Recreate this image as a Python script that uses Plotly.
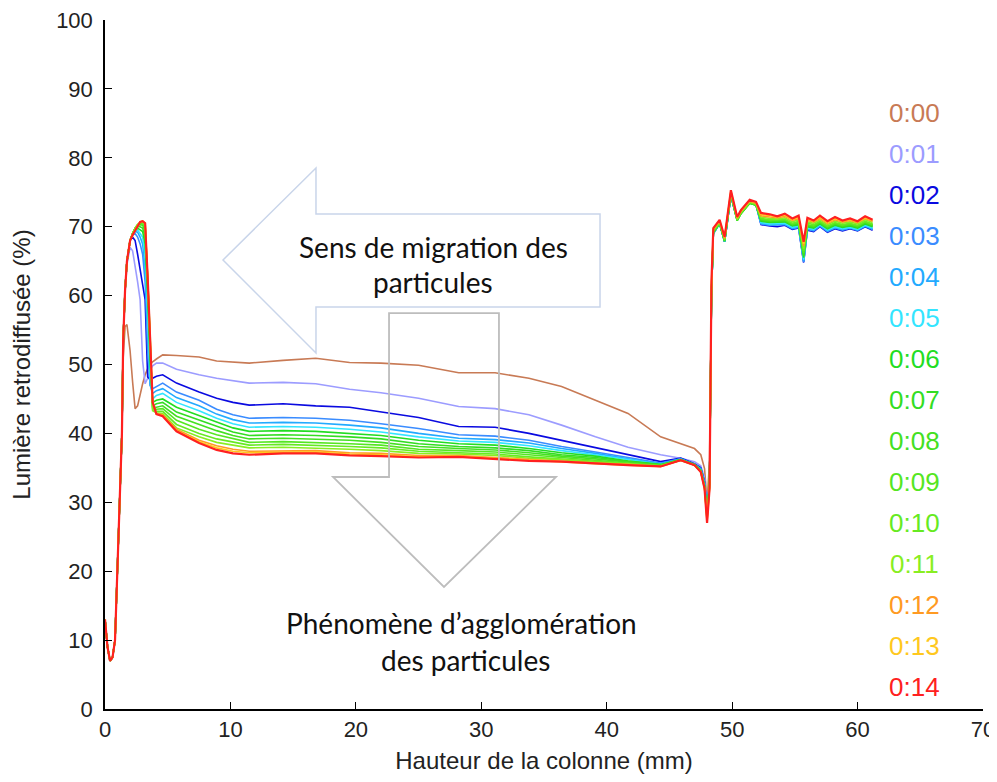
import plotly.graph_objects as go

# ---------------- data ----------------
labels = ["0:00", "0:01", "0:02", "0:03", "0:04", "0:05", "0:06", "0:07",
          "0:08", "0:09", "0:10", "0:11", "0:12", "0:13", "0:14"]
colors = ["#C87A55", "#9C9CFF", "#0A0AE0", "#3A8CFF", "#22AAFF", "#33E5FF",
          "#22DD22", "#33DD22", "#44E022", "#55E622", "#66EA22", "#88EE22",
          "#FF9A22", "#FFC81E", "#FF2020"]

x_left = [0, 0.2, 0.4, 0.6, 0.8, 1.0, 1.2, 1.35, 1.45, 1.6, 1.75, 2.0, 2.2, 2.4,
          2.6, 2.8, 3.0, 3.2, 3.4, 3.6, 3.8, 4.1, 4.6]
x_mid = [5.7, 7.5, 8.9, 10.2, 11.5, 14.2, 16.8, 19.5, 22.0, 25.0, 28.2, 31.1,
         33.8, 36.4, 39.1, 41.7, 44.3, 45.9, 47.0, 47.5, 47.8]
x_right = [48.0, 48.2, 48.35, 48.5, 49.0, 49.4, 49.9, 50.4, 50.7, 51.4, 51.9,
           52.3, 53.0, 53.6, 54.2, 54.8, 55.3, 55.7, 56.0, 56.5, 57.0, 57.6,
           58.2, 58.8, 59.4, 60.0, 60.6, 61.2]

rise = [13, 9, 7, 7.5, 10, 20.6, 30, 40]

left_00 = rise + [51.0, 55.5, 55.8, 52.0, 47.5, 43.6, 44.0, 45.8, 47.2, 48.5, 49.4, 50.0, 50.4, 50.8, 51.4]
left_01 = rise + [53.5, 60.5, 64.5, 67.0, 66.5, 64.5, 62.0, 59.4, 50.5, 47.2, 48.0, 49.2, 49.8, 50.2, 50.2]
left_02 = rise + [53.5, 60.8, 65.0, 68.0, 68.5, 68.0, 66.0, 64.0, 61.5, 59.4, 48.2, 47.8, 48.0, 48.3, 48.5]
left_03 = rise + [53.5, 60.8, 65.0, 68.0, 68.8, 69.0, 68.5, 67.5, 66.0, 62.0, 52.0, 47.0, 46.5, 46.8, 47.3]
left_04 = rise + [53.5, 60.8, 65.0, 68.0, 68.8, 69.3, 69.2, 68.5, 67.5, 64.0, 56.0, 47.0, 45.8, 46.2, 46.5]
left_05 = rise + [53.5, 60.8, 65.0, 68.0, 68.9, 69.5, 69.5, 69.0, 68.5, 66.0, 58.0, 48.0, 45.0, 45.5, 45.8]
left_06 = rise + [53.5, 60.8, 65.0, 68.0, 69.0, 69.6, 69.8, 69.6, 69.3, 67.5, 60.0, 50.0, 44.5, 44.8, 45.0]
left_07 = rise + [53.5, 60.8, 65.0, 68.0, 69.0, 69.7, 70.0, 70.0, 69.8, 68.5, 61.0, 51.5, 44.0, 44.3, 44.5]
left_08 = rise + [53.5, 60.8, 65.0, 68.0, 69.0, 69.8, 70.2, 70.3, 70.2, 69.3, 62.0, 52.5, 43.8, 43.8, 44.0]
left_09 = rise + [53.5, 60.8, 65.0, 68.0, 69.0, 69.8, 70.3, 70.5, 70.4, 69.8, 62.3, 53.5, 43.6, 43.5, 43.6]
left_10 = rise + [53.5, 60.8, 65.0, 68.0, 69.0, 69.8, 70.3, 70.6, 70.6, 70.1, 62.5, 54.0, 43.4, 43.2, 43.2]
left_11 = rise + [53.5, 60.8, 65.0, 68.0, 69.0, 69.8, 70.3, 70.6, 70.7, 70.3, 62.6, 54.3, 43.3, 43.0, 42.9]
left_12 = rise + [53.5, 60.8, 65.0, 68.0, 68.8, 69.5, 70.0, 70.7, 70.8, 70.5, 62.7, 54.6, 44.5, 42.9, 42.7]
left_13 = rise + [53.5, 60.8, 65.0, 68.0, 68.8, 69.5, 70.0, 70.7, 70.8, 70.5, 62.7, 54.6, 44.5, 42.8, 42.6]
left_14 = rise + [53.5, 60.8, 65.0, 68.0, 68.8, 69.5, 70.0, 70.7, 70.8, 70.5, 62.7, 54.6, 44.5, 42.8, 42.5]

mid_00 = [51.3, 51.1, 50.5, 50.3, 50.2, 50.6, 50.9, 50.3, 50.2, 49.9, 48.8, 48.8, 48.0, 46.8, 44.8, 42.9, 39.5, 38.5, 37.8, 36.9, 34.9]
mid_01 = [49.3, 48.5, 48.0, 47.6, 47.3, 47.4, 47.2, 46.4, 45.9, 45.1, 43.9, 43.6, 42.7, 41.2, 39.5, 38.0, 36.9, 36.4, 35.9, 35.3, 33.5]
mid_02 = [47.3, 46.0, 45.1, 44.5, 44.1, 44.3, 44.0, 43.8, 43.1, 42.3, 41.0, 40.9, 40.0, 39.0, 38.0, 36.9, 35.9, 36.4, 35.6, 35.0, 33.0]
mid_03 = [46.0, 44.8, 43.5, 42.7, 42.2, 42.3, 42.2, 41.9, 41.4, 40.7, 39.8, 39.6, 39.0, 38.1, 37.3, 36.5, 35.7, 36.3, 35.5, 34.9, 32.8]
mid_04 = [45.2, 44.0, 42.8, 42.0, 41.5, 41.6, 41.5, 41.2, 40.8, 40.0, 39.3, 39.1, 38.6, 37.8, 37.1, 36.3, 35.6, 36.3, 35.5, 34.8, 32.7]
mid_05 = [44.5, 43.3, 42.2, 41.4, 40.9, 41.0, 40.9, 40.6, 40.2, 39.5, 38.9, 38.7, 38.2, 37.5, 36.9, 36.2, 35.5, 36.2, 35.5, 34.7, 32.6]
mid_06 = [43.8, 42.6, 41.6, 40.8, 40.3, 40.4, 40.3, 40.0, 39.7, 39.0, 38.5, 38.3, 37.8, 37.2, 36.7, 36.0, 35.5, 36.2, 35.5, 34.7, 32.5]
mid_07 = [43.1, 41.9, 41.0, 40.2, 39.7, 39.8, 39.7, 39.5, 39.2, 38.5, 38.1, 37.9, 37.5, 36.9, 36.5, 35.9, 35.4, 36.2, 35.5, 34.6, 32.4]
mid_08 = [42.5, 41.3, 40.4, 39.7, 39.2, 39.3, 39.2, 39.0, 38.7, 38.1, 37.8, 37.6, 37.2, 36.7, 36.3, 35.8, 35.4, 36.2, 35.4, 34.6, 32.3]
mid_09 = [41.9, 40.6, 39.8, 39.2, 38.7, 38.8, 38.7, 38.5, 38.3, 37.7, 37.5, 37.3, 36.9, 36.5, 36.1, 35.7, 35.3, 36.1, 35.4, 34.5, 32.2]
mid_10 = [41.3, 40.0, 39.2, 38.7, 38.3, 38.4, 38.3, 38.1, 37.9, 37.4, 37.2, 37.0, 36.6, 36.3, 36.0, 35.6, 35.3, 36.1, 35.4, 34.5, 32.2]
mid_11 = [40.8, 39.5, 38.7, 38.3, 37.9, 38.0, 37.9, 37.7, 37.5, 37.1, 37.0, 36.8, 36.4, 36.2, 35.8, 35.5, 35.3, 36.1, 35.4, 34.5, 32.1]
mid_12 = [40.6, 39.0, 38.2, 37.7, 37.4, 37.5, 37.5, 37.2, 37.1, 36.8, 36.8, 36.5, 36.2, 36.0, 35.7, 35.5, 35.2, 36.1, 35.4, 34.4, 32.1]
mid_13 = [40.4, 38.8, 37.9, 37.4, 37.2, 37.3, 37.3, 37.0, 36.9, 36.6, 36.7, 36.4, 36.1, 35.9, 35.6, 35.4, 35.2, 36.1, 35.4, 34.4, 32.0]
mid_14 = [40.3, 38.6, 37.6, 37.1, 36.9, 37.1, 37.1, 36.8, 36.7, 36.5, 36.6, 36.3, 36.0, 35.9, 35.6, 35.4, 35.2, 36.1, 35.4, 34.4, 32.0]

right_00 = [30.0, 36.0, 60.0, 69.0, 70.5, 67.8, 74.5, 71.0, 72.0, 73.5, 73.2, 71.0, 70.8, 70.7, 70.9, 70.3, 70.5, 66.5, 70.2, 70.0, 70.7, 70.0, 70.4, 70.1, 70.3, 70.0, 70.6, 70.2]
right_01 = [29.0, 33.5, 60.0, 69.0, 70.5, 67.8, 74.5, 71.0, 72.0, 73.5, 73.2, 70.8, 70.6, 70.5, 70.7, 70.1, 70.3, 66.0, 70.0, 69.8, 70.5, 69.8, 70.2, 69.9, 70.1, 69.8, 70.4, 70.0]
right_02 = [28.5, 33.0, 60.0, 69.0, 70.5, 67.8, 74.5, 71.0, 72.0, 73.5, 73.2, 70.3, 70.1, 70.0, 70.2, 69.6, 69.8, 64.8, 69.5, 69.3, 70.0, 69.2, 69.7, 69.4, 69.7, 69.4, 70.0, 69.5]
right_03 = [28.5, 33.0, 60.0, 69.0, 70.5, 67.8, 74.5, 71.0, 72.0, 73.5, 73.2, 70.4, 70.2, 70.2, 70.3, 69.7, 69.9, 64.9, 69.6, 69.4, 70.1, 69.3, 69.8, 69.5, 69.8, 69.5, 70.1, 69.6]
right_04 = [28.5, 33.0, 60.0, 69.0, 70.5, 67.8, 74.5, 71.0, 72.0, 73.5, 73.2, 70.5, 70.3, 70.3, 70.4, 69.8, 70.0, 65.0, 69.7, 69.5, 70.2, 69.4, 69.9, 69.6, 69.8, 69.5, 70.1, 69.7]
right_05 = [28.4, 33.0, 60.0, 69.0, 70.5, 67.8, 74.5, 71.0, 72.0, 73.5, 73.2, 70.6, 70.4, 70.4, 70.5, 69.9, 70.1, 65.2, 69.8, 69.6, 70.3, 69.5, 70.0, 69.7, 69.9, 69.6, 70.2, 69.8]
right_06 = [28.3, 32.9, 60.0, 69.1, 70.5, 67.9, 74.6, 70.9, 71.9, 73.4, 73.1, 70.8, 70.6, 70.6, 70.7, 70.1, 70.3, 65.5, 70.0, 69.8, 70.4, 69.7, 70.2, 69.9, 70.1, 69.8, 70.4, 70.0]
right_07 = [28.2, 32.8, 60.0, 69.2, 70.5, 67.9, 74.7, 70.9, 71.9, 73.4, 73.1, 70.9, 70.7, 70.7, 70.8, 70.2, 70.4, 65.8, 70.1, 69.9, 70.5, 69.8, 70.3, 70.0, 70.2, 69.9, 70.5, 70.1]
right_08 = [28.1, 32.7, 60.1, 69.2, 70.5, 68.0, 74.7, 70.9, 71.9, 73.4, 73.2, 71.0, 70.8, 70.8, 70.9, 70.3, 70.5, 66.0, 70.2, 70.0, 70.6, 69.9, 70.4, 70.1, 70.3, 70.0, 70.6, 70.2]
right_09 = [28.0, 32.6, 60.2, 69.3, 70.6, 68.0, 74.8, 71.0, 72.0, 73.5, 73.2, 71.1, 70.9, 70.9, 71.0, 70.4, 70.6, 66.2, 70.3, 70.1, 70.7, 70.0, 70.5, 70.2, 70.4, 70.1, 70.7, 70.3]
right_10 = [27.8, 32.5, 60.3, 69.4, 70.6, 68.1, 74.9, 71.0, 72.0, 73.5, 73.3, 71.2, 71.0, 71.0, 71.1, 70.5, 70.8, 66.5, 70.5, 70.3, 70.8, 70.1, 70.6, 70.3, 70.5, 70.2, 70.8, 70.4]
right_11 = [27.6, 32.4, 60.5, 69.5, 70.7, 68.2, 75.0, 71.1, 72.1, 73.6, 73.3, 71.4, 71.2, 71.1, 71.3, 70.7, 71.0, 66.8, 70.7, 70.5, 71.0, 70.3, 70.8, 70.5, 70.7, 70.4, 71.0, 70.6]
right_12 = [27.4, 32.2, 61.0, 69.6, 70.8, 68.3, 75.1, 71.2, 72.2, 73.7, 73.4, 71.6, 71.4, 71.3, 71.5, 70.9, 71.2, 67.2, 70.9, 70.7, 71.2, 70.5, 71.0, 70.7, 70.9, 70.6, 71.2, 70.8]
right_13 = [27.2, 32.0, 61.5, 69.7, 70.9, 68.4, 75.2, 71.3, 72.3, 73.8, 73.5, 71.8, 71.6, 71.4, 71.7, 71.0, 71.4, 67.5, 71.1, 70.8, 71.4, 70.6, 71.2, 70.8, 71.0, 70.7, 71.3, 70.9]
right_14 = [27.0, 32.0, 62.0, 69.8, 71.0, 68.5, 75.3, 71.4, 72.4, 73.9, 73.6, 72.0, 71.8, 71.5, 71.9, 71.2, 71.6, 67.8, 71.3, 70.9, 71.6, 70.8, 71.4, 70.9, 71.2, 70.8, 71.5, 71.0]

lefts = [left_00, left_01, left_02, left_03, left_04, left_05, left_06, left_07,
         left_08, left_09, left_10, left_11, left_12, left_13, left_14]
mids = [mid_00, mid_01, mid_02, mid_03, mid_04, mid_05, mid_06, mid_07,
        mid_08, mid_09, mid_10, mid_11, mid_12, mid_13, mid_14]
rights = [right_00, right_01, right_02, right_03, right_04, right_05, right_06,
          right_07, right_08, right_09, right_10, right_11, right_12, right_13,
          right_14]

x_ticks = [0, 10, 20, 30, 40, 50, 60, 70]
y_ticks = [0, 10, 20, 30, 40, 50, 60, 70, 80, 90, 100]

# ---------------- figure ----------------
OFF = 8                      # page body margin of the html page
W, H = 997 - OFF, 782 - 2 * OFF   # keep page height within the window
ML, MR, MT = 105 - OFF, 14, 20 - OFF
MB = H - (709 - OFF)
PW, PH = W - ML - MR, H - MT - MB


def px(xp, yp):
    """screen pixel -> paper coordinates"""
    return (xp - OFF - ML) / PW, (H - MB - (yp - OFF)) / PH


fig = go.Figure()
xs = x_left + x_mid + x_right
for i, lab in enumerate(labels):
    fig.add_trace(go.Scatter(
        x=xs, y=lefts[i] + mids[i] + rights[i], mode="lines", name=lab,
        line=dict(color=colors[i], width=2.2 if i == 14 else 1.6),
        showlegend=False))

MFONT = "Liberation Sans, Arial, sans-serif"

# colour-coded time labels
for i, lab in enumerate(labels):
    X, Y = px(914, 113 + 41 * i)
    fig.add_annotation(x=X, y=Y, xref="paper", yref="paper", text=lab,
                       showarrow=False, xanchor="center", yanchor="middle",
                       font=dict(family=MFONT, size=26, color=colors[i]))


def path(points):
    pts = [px(a, b) for a, b in points]
    return "M " + " L ".join(f"{a:.4f},{b:.4f}" for a, b in pts) + " Z"


left_arrow = [(223, 260), (316, 168), (316, 214), (600, 214), (600, 307),
              (316, 307), (316, 353)]
down_arrow = [(389, 313), (499, 313), (499, 477), (556, 477), (444, 587),
              (333, 477), (389, 477)]
fig.add_shape(type="path", xref="paper", yref="paper", path=path(left_arrow),
              line=dict(color="#C9D5EA", width=1.5), fillcolor="rgba(0,0,0,0)",
              layer="above")
fig.add_shape(type="path", xref="paper", yref="paper", path=path(down_arrow),
              line=dict(color="#BDBDBD", width=1.8), fillcolor="rgba(0,0,0,0)",
              layer="above")

TFONT = "Lato, Open Sans, sans-serif"
for txt, xp_, yp_ in [("Sens de migration des", 433, 247),
                      ("particules", 433, 282),
                      ("Phénomène d’agglomération", 461, 623),
                      ("des particules", 465, 660)]:
    X, Y = px(xp_, yp_)
    fig.add_annotation(x=X, y=Y, xref="paper", yref="paper", text=txt,
                       showarrow=False, xanchor="center", yanchor="middle",
                       font=dict(family=TFONT, size=28, color="#111111"))

fig.update_layout(
    width=W, height=H,
    margin=dict(l=ML, r=MR, t=MT, b=MB, pad=0, autoexpand=False),
    paper_bgcolor="white", plot_bgcolor="white",
    font=dict(family=MFONT, color="#222222"),
)
fig.update_xaxes(
    range=[0, 70], tickvals=x_ticks, ticktext=[str(v) for v in x_ticks],
    showline=True, linecolor="black", linewidth=1.5, mirror=False,
    ticks="inside", ticklen=7, tickcolor="black", tickwidth=1.2,
    showgrid=False, zeroline=False, automargin=False,
    ticklabeloverflow="allow",
    tickfont=dict(family=MFONT, size=22, color="#222222"),
    title=dict(text="Hauteur de la colonne (mm)", standoff=12,
               font=dict(family=MFONT, size=24, color="#222222")),
)
fig.update_yaxes(
    range=[0, 100], tickvals=y_ticks, ticktext=[str(v) for v in y_ticks],
    showline=True, linecolor="black", linewidth=1.5, mirror=False,
    ticks="inside", ticklen=7, tickcolor="black", tickwidth=1.2,
    showgrid=False, zeroline=False, ticklabelstandoff=6, automargin=False,
    ticklabeloverflow="allow",
    tickfont=dict(family=MFONT, size=22, color="#222222"),
    title=dict(text="Lumière retrodiffusée (%)", standoff=26,
               font=dict(family=MFONT, size=24, color="#222222")),
)

fig.write_html("out.html")
